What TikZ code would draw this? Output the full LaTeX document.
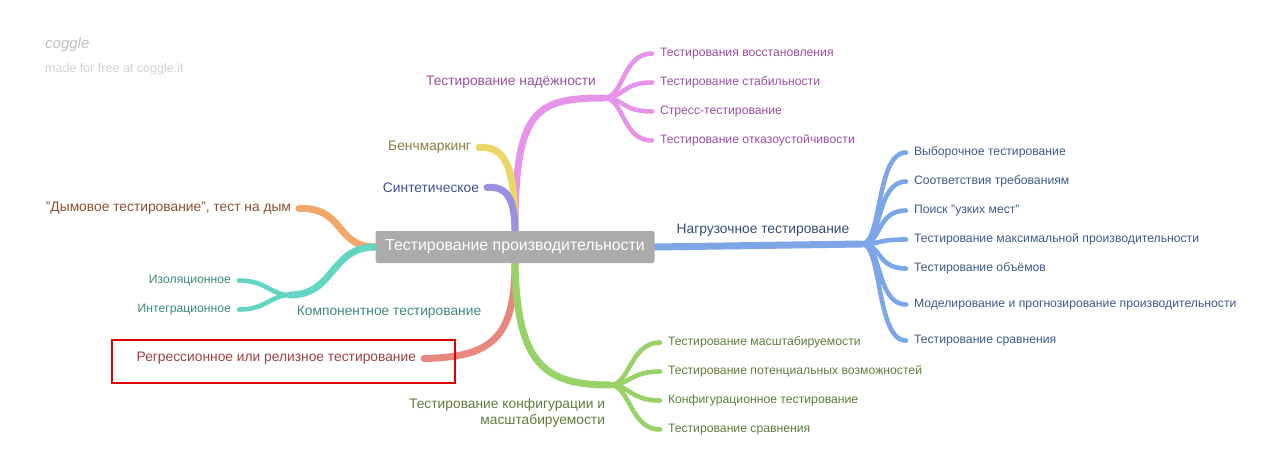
\documentclass[tikz,border=0pt]{standalone}
\usepackage{fontspec}
\setmainfont{Liberation Sans}
\usepackage{xcolor}
\usetikzlibrary{positioning, backgrounds}

\definecolor{hubgray}{HTML}{ABABAB}
\definecolor{relLine}{HTML}{E594EA}\definecolor{relText}{HTML}{9C4EA4}
\definecolor{benchLine}{HTML}{EBD666}\definecolor{benchText}{HTML}{8B7A44}
\definecolor{synLine}{HTML}{9A90DF}\definecolor{synText}{HTML}{3F4D94}
\definecolor{loadLine}{HTML}{7DA6E6}\definecolor{loadText}{HTML}{3D5A88}
\definecolor{smokeLine}{HTML}{F2A86A}\definecolor{smokeText}{HTML}{8A4F2E}
\definecolor{compLine}{HTML}{62D6C2}\definecolor{compText}{HTML}{3B8A7E}
\definecolor{regLine}{HTML}{E8877F}\definecolor{regText}{HTML}{9C3F3F}
\definecolor{cfgLine}{HTML}{98D268}\definecolor{cfgText}{HTML}{5E7D3A}
\definecolor{markred}{HTML}{E00000}

\begin{document}
\begin{tikzpicture}[
  x=1pt, y=-1pt,
  hub/.style={fill=hubgray, rounded corners=2pt, minimum width=279pt, minimum height=32pt, inner sep=0pt, text=white, font=\fontsize{15.9}{18}\selectfont},
  topic/.style={inner sep=2pt, outer sep=6pt, yshift=-1.5pt, font=\fontsize{13.8}{16}\selectfont},
  leaf/.style={inner sep=2pt, outer sep=6pt, yshift=-1.5pt, font=\fontsize{12.2}{14}\selectfont},
  trunk/.style={line width=7pt, line cap=round},
  twig/.style={line width=4.6pt, line cap=round}
]
\useasboundingbox (0,0) rectangle (1280,476);

% watermark
\node[anchor=west, inner sep=0pt, text=gray!50, font=\itshape\fontsize{15}{17}\selectfont] (logo) at (45,45) {coggle};
\node[anchor=west, inner sep=0pt, text=gray!35, font=\fontsize{12.5}{14}\selectfont] (madefor) at (45,69) {made for free at coggle.it};

% centre
\node[hub] (hub) at (515,247) {\raisebox{-1.5pt}{Тестирование производительности}};

% reliability
\node[topic, text=relText] (rel) at (511,81) {Тестирование надёжности};
\coordinate (relfork) at (604,98);
\node[leaf, anchor=west, text=relText] (rel1) at (652,52) {Тестирования восстановления};
\node[leaf, anchor=west, text=relText] (rel2) at (652,81) {Тестирование стабильности};
\node[leaf, anchor=west, text=relText] (rel3) at (652,110) {Стресс-тестирование};
\node[leaf, anchor=west, text=relText] (rel4) at (652,139) {Тестирование отказоустойчивости};

\node[topic, anchor=east, text=benchText] (bench) at (479,146) {Бенчмаркинг};
\node[topic, anchor=east, text=synText] (synth) at (487,186) {Синтетическое};

% load
\node[topic, text=loadText!85!black] (load) at (763,229) {Нагрузочное тестирование};
\coordinate (loadfork) at (862,244);
\node[leaf, anchor=west, text=loadText] (load1) at (906,151) {Выборочное тестирование};
\node[leaf, anchor=west, text=loadText] (load2) at (906,180) {Соответствия требованиям};
\node[leaf, anchor=west, text=loadText] (load3) at (906,209) {Поиск "узких мест"};
\node[leaf, anchor=west, text=loadText] (load4) at (906,238) {Тестирование максимальной производительности};
\node[leaf, anchor=west, text=loadText] (load5) at (906,267) {Тестирование объёмов};
\node[leaf, anchor=west, text=loadText] (load6) at (906,303) {Моделирование и прогнозирование производительности};
\node[leaf, anchor=west, text=loadText] (load7) at (906,339) {Тестирование сравнения};

% smoke, component
\node[topic, anchor=east, text=smokeText] (smoke) at (299,207) {"Дымовое тестирование", тест на дым};
\node[topic, text=compText] (comp) at (389,311) {Компонентное тестирование};
\coordinate (compfork) at (290,295);
\node[leaf, anchor=east, text=compText] (iso) at (239,279) {Изоляционное};
\node[leaf, anchor=east, text=compText] (integ) at (239,308) {Интеграционное};

% regression
\node[topic, anchor=east, text=regText] (regr) at (424,357) {Регрессионное или релизное тестирование};
\node[draw=markred, line width=2pt, minimum width=343pt, minimum height=43pt, inner sep=0pt] (mark) at (283.5,361.5) {};

% configuration
\node[topic, anchor=east, align=right, text=cfgText] (cfg) at (613,411.5) {Тестирование конфигурации и\\масштабируемости};
\coordinate (cfgfork) at (610,385);
\node[leaf, anchor=west, text=cfgText] (cfg1) at (660,341) {Тестирование масштабируемости};
\node[leaf, anchor=west, text=cfgText] (cfg2) at (660,370) {Тестирование потенциальных возможностей};
\node[leaf, anchor=west, text=cfgText] (cfg3) at (660,399) {Конфигурационное тестирование};
\node[leaf, anchor=west, text=cfgText] (cfg4) at (660,428) {Тестирование сравнения};

\begin{scope}[on background layer]
\draw[trunk, relLine] (hub.north) .. controls (515,110) and (535,98) .. (relfork);
\draw[twig, relLine] (relfork) .. controls +(20,0) and +(-30,0) .. (rel1.west);
\draw[twig, relLine] (relfork) .. controls +(20,0) and +(-30,0) .. (rel2.west);
\draw[twig, relLine] (relfork) .. controls +(20,0) and +(-30,0) .. (rel3.west);
\draw[twig, relLine] (relfork) .. controls +(20,0) and +(-30,0) .. (rel4.west);
\draw[trunk, benchLine] (hub.north) .. controls (515,165) and (505,146) .. (bench.east);
\draw[trunk, synLine] (hub.north) .. controls (515,196) and (505,186) .. (synth.east);

\draw[trunk, loadLine] (hub.east) -- (loadfork);
\foreach \leafname in {load1,load2,load3,load4,load5,load6,load7}
  \draw[twig, loadLine] (loadfork) .. controls +(20,0) and +(-30,0) .. (\leafname.west);

\draw[trunk, smokeLine] (hub.west) .. controls (335,247) and (345,207) .. (smoke.east);
\draw[trunk, compLine] (hub.west) .. controls (330,247) and (335,295) .. (compfork);
\draw[twig, compLine] (compfork) .. controls +(-20,0) and +(28,0) .. (iso.east);
\draw[twig, compLine] (compfork) .. controls +(-20,0) and +(28,0) .. (integ.east);

\draw[trunk, regLine] (hub.south) .. controls (515,340) and (490,357) .. (regr.east);
\draw[trunk, cfgLine] (hub.south) .. controls (517,365) and (545,385) .. (cfgfork);
\draw[twig, cfgLine] (cfgfork) .. controls +(20,0) and +(-30,0) .. (cfg1.west);
\draw[twig, cfgLine] (cfgfork) .. controls +(20,0) and +(-30,0) .. (cfg2.west);
\draw[twig, cfgLine] (cfgfork) .. controls +(20,0) and +(-30,0) .. (cfg3.west);
\draw[twig, cfgLine] (cfgfork) .. controls +(20,0) and +(-30,0) .. (cfg4.west);
\end{scope}
\end{tikzpicture}
\end{document}
